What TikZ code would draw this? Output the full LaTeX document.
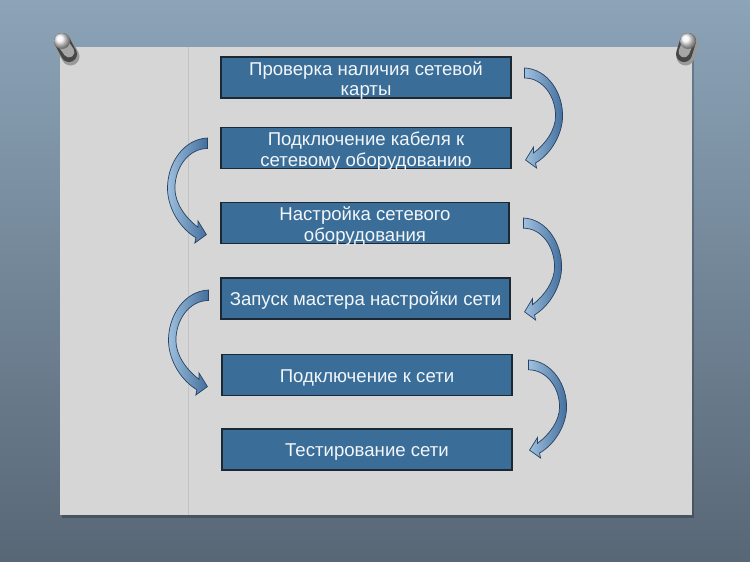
\documentclass[tikz,border=0pt]{standalone}
\usepackage{fontspec}
\setmainfont{Liberation Sans}
\usetikzlibrary{calc}
\definecolor{boxblue}{RGB}{58,110,152}
\definecolor{boxline}{RGB}{28,40,52}
\definecolor{sheet}{RGB}{214,214,214}
\definecolor{bgtop}{RGB}{140,164,184}
\definecolor{bgbot}{RGB}{88,103,118}
\definecolor{arrlight}{RGB}{160,192,222}
\definecolor{arrdark}{RGB}{66,110,156}
\definecolor{arrline}{RGB}{38,66,100}
\definecolor{txt}{RGB}{242,246,250}
\tikzset{
  stepbox/.style={draw=boxline, line width=1.1pt, fill=boxblue, minimum width=290pt,
    minimum height=41pt, inner sep=0pt},
  steptext/.style={inner sep=0pt, text=txt, align=center,
    font=\fontsize{18.6}{20.3}\selectfont},
  arrowsty/.style={left color=arrlight, right color=arrdark, draw=arrline, line width=0.7pt}
}
\newcommand\bentarrow[3]{%
  \begin{scope}[shift={#1}, xscale=#2, yscale=#3]
    \shade[arrowsty] (0,0) .. controls (23,1) and (39,25) .. (38,50)
      .. controls (37,68) and (26,86) .. (11,95)
      -- (12,100) -- (1,92) -- (9,79) -- (9,85)
      .. controls (21,76) and (31,62) .. (31,48)
      .. controls (31,28) and (18,10) .. (0,10) -- cycle;
  \end{scope}}
\newcommand\pushpin[2]{%
  \draw[line width=18pt, line cap=round, color=black!40] ($#1+(1.5,2.5)$) -- ($#2+(1.5,2.5)$);
  \draw[line width=16pt, line cap=round, color=black!45!gray] #1 -- #2;
  \draw[line width=11pt, line cap=round, color=gray!70] ($#1+(0,1)$) -- ($#2+(0,-2)$);
  \shade[ball color=white!92!gray] #1 circle (8);
}
\begin{document}
\begin{tikzpicture}[x=1pt, y=-1pt]
  \useasboundingbox (0,0) rectangle (750,562);
  \shade[top color=bgtop, bottom color=bgbot] (0,0) rectangle (750,562);
  % sheet shadow and sheet
  \fill[black, opacity=0.22] (62,50) rectangle (694,518);
  \fill[sheet] (60,47) rectangle (692,515);
  \draw[black!24, line width=0.9pt] (188,47) -- (188,515);
  % pins
  \pushpin{(62,41)}{(69,54)}
  \pushpin{(688,41)}{(684,54)}
  % boxes
  \node[stepbox] (b1) at (366,77.5) {};
  \node[stepbox] (b2) at (366,148) {};
  \node[stepbox, minimum width=288pt] (b3) at (365,223) {};
  \node[stepbox, minimum width=289pt] (b4) at (365.5,298.5) {};
  \node[stepbox] (b5) at (367,375) {};
  \node[stepbox] (b6) at (367,449.5) {};
  % texts
  \node[steptext] (t1) at ($(b1.center)+(0,3)$) {Проверка наличия сетевой\\карты};
  \node[steptext] (t2) at ($(b2.center)+(0,3)$) {Подключение кабеля к\\сетевому оборудованию};
  \node[steptext] (t3) at ($(b3.center)+(0,3)$) {Настройка сетевого\\оборудования};
  \node[steptext] (t4) at ($(b4.center)+(0,2)$) {Запуск мастера настройки сети};
  \node[steptext] (t5) at ($(b5.center)+(0,3)$) {Подключение к сети};
  \node[steptext] (t6) at ($(b6.center)+(0,2.5)$) {Тестирование сети};
  % curved arrows
  \bentarrow{{($(b1.east)+(13,-9.5)$)}}{1}{1}
  \bentarrow{{($(b2.west)+(-13,-10)$)}}{-1.05}{1.05}
  \bentarrow{{($(b3.east)+(14,-5)$)}}{1}{1.02}
  \bentarrow{{($(b4.west)+(-12,-8.5)$)}}{-1.05}{1.05}
  \bentarrow{{($(b5.east)+(16,-15)$)}}{1}{0.98}
\end{tikzpicture}
\end{document}
